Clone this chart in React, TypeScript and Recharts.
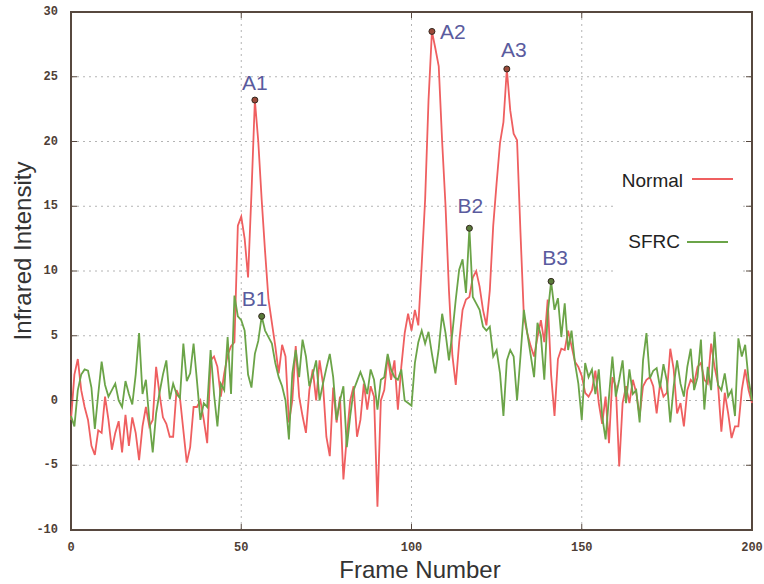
import { CartesianGrid, Line, LineChart, ReferenceArea, ReferenceDot, XAxis, YAxis } from "recharts";

// frame index 0..200
const frames = Array.from({ length: 201 }, (_, i) => i);

const normal = [
  -1.5, 2.0, 3.2, 0.8, -0.5, -1.5, -3.5, -4.2, -2.3, -2.5,
  0.3, -1.5, -3.8, -2.5, -1.6, -4.0, -1.1, -3.5, -1.3, -2.5,
  -4.6, -2.0, -0.5, -2.0, -1.5, 2.6, 0.5, -1.3, -1.8, -2.8,
  -2.8, 0.8, 0.2, -2.3, -4.8, -3.6, -0.5, -0.5, 0.0, -1.5,
  -3.3, 3.1, 3.4, 2.6, 0.3, 2.1, 3.5, 4.2, 4.5, 13.5,
  14.2, 12.5, 9.5, 16.0, 23.2, 20.0, 15.5, 11.5, 7.8, 6.0,
  4.2, 2.1, 4.3, 3.4, -1.7, 0.0, 4.2, 0.3, -1.2, -2.5,
  0.8, 2.4, 0.0, 3.1, 1.3, -2.8, -4.3, 1.0, -1.7, 0.3,
  -6.1, -2.8, 0.0, 1.1, -2.8, -1.5, 1.3, -0.7, 1.1, 0.3,
  -8.2, 0.0, 0.8, 3.4, 1.6, 3.1, -0.7, 2.6, 5.2, 6.7,
  5.4, 7.0, 5.8, 10.5, 15.5, 23.2, 28.5, 27.2, 25.8, 20.0,
  15.0, 8.5, 3.5, 1.2, 4.5, 7.0, 7.8, 8.0, 9.5, 10.0,
  8.8, 7.0, 5.8, 8.5, 13.5, 16.8, 19.9, 21.5, 25.6, 22.4,
  20.6, 20.1, 13.0, 6.5, 5.2, 4.2, 3.4, 4.9, 6.2, 4.5,
  7.8, 2.0, -1.2, 3.2, 4.0, 3.9, 5.4, 4.2, 3.0, 2.6,
  1.9, 0.6, 0.3, 0.8, 2.3, -0.2, -1.8, 0.3, -3.3, 1.8,
  1.1, -5.1, -0.2, 1.1, -0.2, 1.6, 0.6, -1.2, 1.1, 1.6,
  1.8, 1.1, -1.0, 1.3, 0.3, 0.6, 4.0, 2.4, -1.0, -0.2,
  -2.0, 0.8, 1.6, 1.3, 2.6, 2.9, 1.6, 1.3, 4.4, 2.6,
  1.3, -2.4, 0.6, -1.0, -2.9, -2.0, -2.0, 0.8, 2.4, 0.8,
  -0.2,
];

const sfrc = [
  -1.2, -2.0, 0.8, 2.0, 2.4, 2.3, 1.0, -2.2, 0.5, 3.0,
  1.2, 0.3, 0.8, 1.3, 0.0, -0.5, 1.5, 0.5, -0.3, 2.0,
  5.2, 0.5, 1.6, -1.5, -4.0, -1.0, 0.6, 2.0, 3.1, 0.1,
  1.3, 0.5, 0.2, 4.4, 1.5, 2.1, 4.4, 1.5, -1.5, -0.2,
  -0.5, 3.9, 0.5, -2.0, 1.3, 0.8, 4.9, 0.5, 8.1, 6.5,
  6.2, 5.4, 2.0, 1.0, 3.6, 4.6, 6.5, 5.4, 4.9, 4.4,
  2.9, 1.8, 1.1, 0.0, -3.0, 2.1, 3.9, 1.8, 4.7, 3.4,
  1.1, 2.0, 3.1, 0.0, 1.3, 2.5, 3.6, 1.8, -1.5, 0.0,
  1.1, -3.6, -1.2, 0.8, 1.5, 2.2, 1.5, 0.5, 2.4, 1.6,
  -0.7, 1.6, 1.8, 3.6, 2.4, 1.8, 1.6, 2.4, 0.0, -0.2,
  -0.4, 2.9, 4.5, 5.4, 4.4, 5.3, 3.6, 2.1, 4.0, 6.7,
  5.2, 3.1, 5.2, 7.8, 10.1, 10.9, 8.3, 13.3, 8.0, 7.5,
  7.0, 5.7, 5.4, 5.7, 3.4, 3.9, 2.1, -1.2, 3.1, 3.9,
  3.4, 0.0, 3.4, 7.0, 5.2, 3.5, 1.8, 6.0, 5.0, 1.6,
  6.7, 9.2, 7.0, 7.9, 4.9, 7.5, 3.9, 5.4, 2.9, 1.3,
  -1.5, 2.9, 1.8, 2.4, 0.5, 2.4, -1.2, -3.0, 0.3, 3.4,
  0.3, 1.6, 3.1, -0.2, 2.4, 0.5, 0.8, -1.7, 3.1, 5.2,
  1.7, 2.3, 2.5, 1.0, 2.8, 1.5, -1.7, 1.1, 3.1, 1.3,
  0.3, 2.6, 4.0, 0.8, 1.8, 4.7, -0.7, 2.6, 0.8, 5.3,
  1.2, 0.8, 2.1, 0.3, 0.8, -1.2, 4.8, 3.4, 4.3, 1.6,
  0.0,
];

const xTicks = [0, 50, 100, 150, 200];
const yTicks = [-10, -5, 0, 5, 10, 15, 20, 25, 30];

// labelled peaks
const peakNames = ["A1", "A2", "A3", "B1", "B2", "B3"];
const peakFrames = [54, 106, 128, 56, 117, 141];
const peakSeries = ["normal", "normal", "normal", "sfrc", "sfrc", "sfrc"];
const peakOffsets = [
  { dx: 0, dy: -10, anchor: "middle" },
  { dx: 8, dy: 8, anchor: "start" },
  { dx: 7, dy: -12, anchor: "middle" },
  { dx: -7, dy: -10, anchor: "middle" },
  { dx: 1, dy: -15, anchor: "middle" },
  { dx: 4, dy: -16, anchor: "middle" },
];

const rows = frames.map((f, i) => ({ frame: f, normal: normal[i], sfrc: sfrc[i] }));

const W = 764;
const H = 584;
const PLOT_L = 71;
const PLOT_R = 752;
const PLOT_T = 12;
const PLOT_B = 530;

const RED = "#ef5f60";
const GREEN = "#6ba448";
const FRAME = "#57483f";
const TICK_FONT = { fontFamily: "'Liberation Mono', monospace", fontWeight: 700, fontSize: 12, fill: "#4e3e36" };
const SANS = "'Liberation Sans', Arial, sans-serif";

function YTick({ y, payload }: any) {
  return (
    <g>
      <line x1={PLOT_L} x2={PLOT_L + 6} y1={y} y2={y} stroke={FRAME} />
      <line x1={PLOT_R} x2={PLOT_R - 6} y1={y} y2={y} stroke={FRAME} />
      <text x={PLOT_L - 13} y={y} textAnchor="end" dominantBaseline="central" {...TICK_FONT}>
        {payload.value}
      </text>
    </g>
  );
}

function XTick({ x, payload }: any) {
  return (
    <g>
      <line x1={x} x2={x} y1={PLOT_B} y2={PLOT_B - 6} stroke={FRAME} />
      <line x1={x} x2={x} y1={PLOT_T} y2={PLOT_T + 6} stroke={FRAME} />
      <text x={x} y={PLOT_B + 18} textAnchor="middle" dominantBaseline="central" {...TICK_FONT}>
        {payload.value}
      </text>
    </g>
  );
}

function peakShape(i: number) {
  const isA = peakSeries[i] === "normal";
  const off = peakOffsets[i];
  return (p: any) => (
    <g>
      <circle cx={p.cx} cy={p.cy} r={3} fill={isA ? "#9a4a3a" : "#5a7a3a"} stroke="#33281f" strokeWidth={1} />
      <text
        x={p.cx + off.dx}
        y={p.cy + off.dy}
        textAnchor={off.anchor}
        fontFamily={SANS}
        fontSize={21}
        fill="#5a5b9e"
      >
        {peakNames[i]}
      </text>
    </g>
  );
}

export default function App() {
  return (
    <div style={{ position: "relative", width: W, height: H, background: "#fff" }}>
      <style>{"body{margin:0}"}</style>
      <LineChart width={W} height={H} data={rows} margin={{ top: PLOT_T, right: W - PLOT_R, bottom: H - PLOT_B - 30, left: 0 }}>
        <CartesianGrid stroke="#b4b4b4" strokeDasharray="2 4" horizontalValues={yTicks.slice(1, -1)} verticalValues={xTicks.slice(1, -1)} />
        <XAxis
          dataKey="frame"
          type="number"
          domain={[0, 200]}
          ticks={xTicks}
          height={30}
          tick={<XTick />}
          tickLine={false}
          axisLine={false}
          interval={0}
        />
        <YAxis
          type="number"
          domain={[-10, 30]}
          ticks={yTicks}
          width={PLOT_L}
          tick={<YTick />}
          tickLine={false}
          axisLine={false}
          interval={0}
        />
        <ReferenceArea x1={0} x2={200} y1={-10} y2={30} fill="none" stroke={FRAME} strokeWidth={2} />
        <Line type="linear" dataKey="normal" stroke={RED} strokeWidth={1.8} dot={false} isAnimationActive={false} />
        <Line type="linear" dataKey="sfrc" stroke={GREEN} strokeWidth={1.8} dot={false} isAnimationActive={false} />
        {peakNames.map((name, i) => {
          const src = peakSeries[i] === "normal" ? normal : sfrc;
          return (
            <ReferenceDot
              key={name}
              x={peakFrames[i]}
              y={src[peakFrames[i]]}
              r={3}
              shape={peakShape(i)}
            />
          );
        })}
      </LineChart>
      <svg width={W} height={H} style={{ position: "absolute", left: 0, top: 0, pointerEvents: "none" }}>
        <rect x={613} y={158} width={128} height={118} fill="#fff" />
        <text x={683} y={187} textAnchor="end" fontFamily={SANS} fontSize={19} fill="#222">Normal</text>
        <line x1={692} x2={733} y1={179} y2={179} stroke={RED} strokeWidth={2} />
        <text x={680} y={248} textAnchor="end" fontFamily={SANS} fontSize={19} fill="#222">SFRC</text>
        <line x1={687} x2={728} y1={242} y2={242} stroke={GREEN} strokeWidth={2} />
        <text x={420} y={578} textAnchor="middle" fontFamily={SANS} fontSize={24} fill="#333">Frame Number</text>
        <text x={31} y={251} textAnchor="middle" fontFamily={SANS} fontSize={24} fill="#333" transform="rotate(-90 31 251)">
          Infrared Intensity
        </text>
      </svg>
    </div>
  );
}
